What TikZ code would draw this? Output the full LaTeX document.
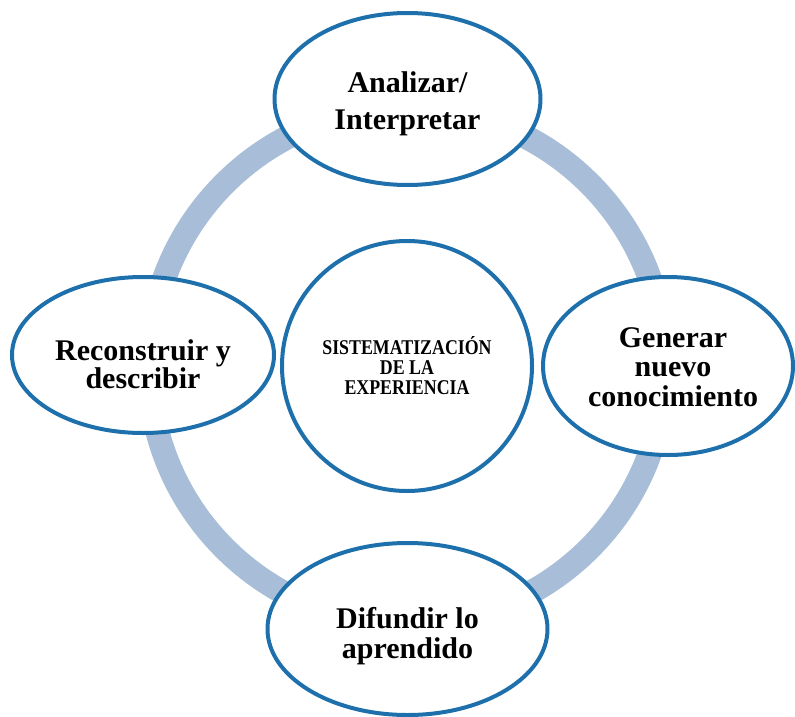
\documentclass[tikz,border=0pt]{standalone}
\usepackage{fontspec}
\setmainfont{Liberation Serif}
\newfontfamily\narrowserif[FakeStretch=0.85]{Liberation Serif}
\usetikzlibrary{shapes.geometric}
\definecolor{ringblue}{RGB}{168,189,215}
\definecolor{edgeblue}{RGB}{30,112,172}
\tikzset{
  oval/.style={ellipse, draw=edgeblue, line width=4pt, fill=white, inner sep=0pt},
  lbl/.style={align=center, inner sep=0pt, text=black, font=\fontsize{30}{29.5}\selectfont\bfseries},
  centrelbl/.style={align=center, inner sep=0pt, text=black, font=\narrowserif\fontsize{21}{20}\selectfont\bfseries}
}
\begin{document}
\begin{tikzpicture}[x=1pt,y=-1pt]
\useasboundingbox (0,0) rectangle (795,717);
\coordinate (c) at (407,366);
\draw[ringblue, line width=24pt] (c) circle[radius=258];
\node[oval, minimum width=266pt, minimum height=172pt] (top) at (407.5,99) {};
\node[oval, minimum width=262pt, minimum height=156pt] (left) at (143,355) {};
\node[oval, minimum width=250pt, minimum height=178pt] (right) at (668,366) {};
\node[oval, minimum width=280pt, minimum height=172pt] (bottom) at (407.5,629) {};
\node[circle, draw=edgeblue, line width=4pt, fill=white, minimum size=250pt, inner sep=0pt] (centre) at (407,366) {};
\node[lbl] (ttop) at (top.center) [yshift=-5pt] {Analizar/\\[8pt]Interpretar};
\node[lbl, font=\fontsize{30}{28.5}\selectfont\bfseries] (tleft) at (left.center) [yshift=-9pt] {Reconstruir y\\describir};
\node[lbl] (tright) at (right.center) [xshift=5pt, yshift=-1pt] {Generar\\nuevo\\conocimiento};
\node[lbl] (tbottom) at (bottom.center) [yshift=-7pt] {Difundir lo\\aprendido};
\node[centrelbl] (tcentre) at (centre.center) {SISTEMATIZACIÓN\\DE LA\\EXPERIENCIA};
\end{tikzpicture}
\end{document}
